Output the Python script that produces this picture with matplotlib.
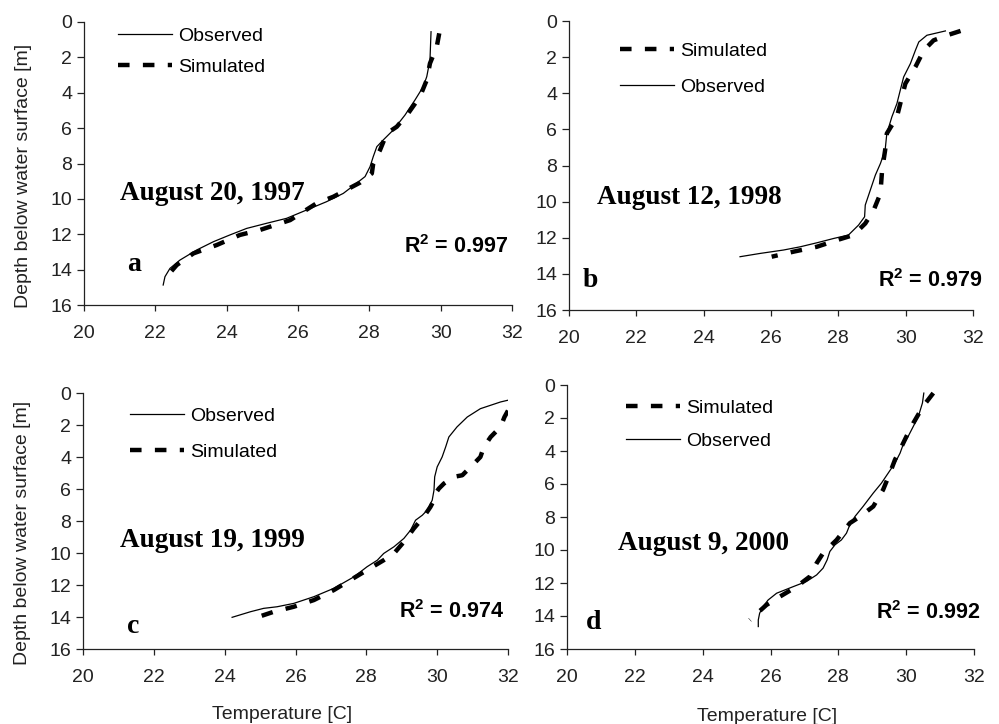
"""Observed vs simulated temperature profiles, four August surveys (1997-2000), 2x2 panels."""
import matplotlib; matplotlib.use("Agg")
import matplotlib.pyplot as plt

plt.rcParams["font.family"] = ["Liberation Sans", "DejaVu Sans"]
plt.rcParams["mathtext.fontset"] = "custom"
plt.rcParams["mathtext.bf"] = "Liberation Sans:bold"
plt.rcParams["mathtext.rm"] = "Liberation Sans"

# ---- data: temperature [C] vs depth [m] ----
a_obs_T = [29.73, 29.70, 29.61, 29.51, 29.28, 29.00, 28.67, 28.39, 28.21, 28.11, 28.02, 27.88, 27.64,
           27.27, 26.80, 26.24, 25.68, 25.12, 24.56, 24.09, 23.63, 23.16, 22.69, 22.41, 22.27, 22.22]
a_obs_D = [0.55, 2.15, 3.09, 3.66, 4.41, 5.26, 6.11, 6.67, 7.05, 7.61, 8.18, 8.74, 9.12,
           9.69, 10.16, 10.63, 11.10, 11.38, 11.67, 12.04, 12.42, 12.89, 13.46, 13.93, 14.40, 14.87]
a_sim_T = [29.96, 29.89, 29.70, 29.61, 29.42, 29.09, 28.77, 28.49, 28.30, 28.11, 28.07, 27.74, 26.99,
           26.52, 25.78, 24.93, 24.37, 23.72, 23.07, 22.60, 22.36]
a_sim_D = [0.64, 1.40, 2.34, 3.28, 4.22, 5.16, 5.92, 6.30, 7.24, 7.99, 8.56, 9.08, 9.88,
           10.25, 11.20, 11.76, 12.04, 12.61, 13.08, 13.74, 14.30]

b_obs_T = [31.18, 30.63, 30.39, 30.29, 30.14, 29.94, 29.84, 29.74, 29.59, 29.44, 29.39, 29.25, 29.10,
           28.95, 28.80, 28.78, 28.60, 28.30, 27.86, 27.36, 26.87, 26.37, 25.67, 25.08]
b_obs_D = [0.55, 0.79, 1.16, 1.62, 2.36, 3.10, 3.83, 4.57, 5.31, 6.23, 7.15, 7.89, 8.53,
           9.36, 10.19, 10.84, 11.30, 11.85, 12.04, 12.28, 12.50, 12.68, 12.87, 13.05]
b_sim_T = [31.63, 31.23, 30.83, 30.54, 30.29, 29.99, 29.89, 29.74, 29.44, 29.39, 29.30, 29.25, 29.05,
           28.80, 28.45, 27.96, 27.36, 26.67, 26.02]
b_sim_D = [0.55, 0.79, 1.07, 1.62, 2.54, 3.47, 4.20, 5.31, 6.23, 7.15, 8.26, 9.55, 10.47,
           11.21, 11.85, 12.13, 12.50, 12.77, 13.05]

c_obs_T = [32.00, 31.79, 31.22, 30.85, 30.56, 30.33, 30.24, 30.14, 30.00, 29.93, 29.91, 29.86, 29.72,
           29.58, 29.39, 29.25, 29.06, 28.78, 28.49, 28.31, 28.02, 27.65, 27.08, 26.52, 25.95, 25.48,
           25.10, 24.73, 24.21]
c_obs_D = [0.45, 0.56, 0.98, 1.50, 2.12, 2.75, 3.37, 4.00, 4.62, 5.24, 6.08, 6.70, 7.32,
           7.64, 7.95, 8.57, 9.09, 9.61, 10.03, 10.45, 10.86, 11.49, 12.21, 12.73, 13.15, 13.36,
           13.46, 13.67, 14.02]
c_sim_T = [32.00, 31.90, 31.79, 31.51, 31.32, 31.22, 31.04, 30.85, 30.71, 30.47, 30.19, 30.05, 29.95,
           29.91, 29.81, 29.62, 29.34, 29.10, 28.78, 28.49, 28.02, 27.55, 27.08, 26.52, 25.95, 25.39, 24.82]
c_sim_D = [1.10, 1.50, 2.12, 2.75, 3.37, 4.00, 4.41, 4.83, 5.14, 5.24, 5.66, 5.97, 6.28,
           6.70, 7.12, 7.74, 8.47, 9.20, 10.03, 10.45, 11.07, 11.69, 12.32, 12.94, 13.36, 13.67, 14.09]

d_obs_T = [30.52, 30.48, 30.36, 30.21, 30.06, 29.91, 29.82, 29.67, 29.47, 29.27, 29.03, 28.73, 28.49,
           28.34, 28.24, 28.09, 27.90, 27.75, 27.67, 27.55, 27.36, 27.06, 26.67, 26.18, 25.93, 25.78,
           25.68, 25.64, 25.64]
d_obs_D = [0.49, 1.09, 1.90, 2.51, 3.11, 3.62, 4.13, 4.73, 5.34, 5.95, 6.55, 7.36, 7.97,
           8.47, 8.98, 9.39, 9.69, 10.09, 10.60, 11.10, 11.51, 11.91, 12.22, 12.62, 13.03, 13.43,
           13.83, 14.24, 14.64]
d_sim_T = [30.80, 30.50, 30.21, 30.01, 29.82, 29.67, 29.52, 29.32, 29.03, 28.64, 28.34, 27.95, 27.55,
           27.36, 27.16, 26.77, 26.28, 25.88, 25.39]
d_sim_D = [0.49, 1.29, 2.31, 3.11, 3.92, 4.53, 5.34, 6.35, 7.36, 7.97, 8.37, 9.39, 10.19,
           10.80, 11.61, 12.22, 12.82, 13.33, 14.24]

dates = ["August 20, 1997", "August 12, 1998", "August 19, 1999", "August 9, 2000"]
letters = ["a", "b", "c", "d"]
r2 = ["0.997", "0.979", "0.974", "0.992"]
sim_first = [False, True, False, True]          # legend order differs between panels
x_ticks = [20, 22, 24, 26, 28, 30, 32]
y_ticks = [0, 2, 4, 6, 8, 10, 12, 14, 16]

W, H = 999, 724
# axes boxes in pixels: left, top, right, bottom
boxes = [(84, 22, 512, 305), (569, 21, 973, 310), (83, 393, 508, 649), (567, 385, 974, 649)]
# text anchors (data coords): date (x, baseline), letter (x, baseline), R2 (right x, baseline)
date_xy = [(21.0, 10.06), (20.83, 10.13), (21.05, 9.6), (21.5, 10.0)]
let_xy = [(21.2, 14.06), (20.42, 14.73), (21.24, 15.0), (20.56, 14.8)]
r2_xy = [(31.9, 13.08), (32.27, 14.73), (31.89, 14.05), (32.18, 14.2)]
# legend upper-left corner in pixels, row spacing
leg_xy = [(118, 27, 0.70), (620, 42, 0.95), (130, 407, 0.95), (626, 399, 0.80)]

obs = [(a_obs_T, a_obs_D), (b_obs_T, b_obs_D), (c_obs_T, c_obs_D), (d_obs_T, d_obs_D)]
sim = [(a_sim_T, a_sim_D), (b_sim_T, b_sim_D), (c_sim_T, c_sim_D), (d_sim_T, d_sim_D)]

fig = plt.figure(figsize=(W / 100, H / 100), dpi=100)
FS = 14
for i in range(4):
    l, t, r, b = boxes[i]
    ax = fig.add_axes([l / W, 1 - b / H, (r - l) / W, (b - t) / H])
    lo, = ax.plot(*obs[i], color="black", lw=0.9, label="Observed")
    ls, = ax.plot(*sim[i], color="black", lw=3.2, linestyle=(0, (2.6, 3.0)),
                  dash_capstyle="butt", label="Simulated")
    ax.set_xlim(20, 32); ax.set_ylim(16, 0)
    ax.set_xticks(x_ticks); ax.set_yticks(y_ticks)
    for s in ("top", "right"):
        ax.spines[s].set_visible(False)
    for s in ("left", "bottom"):
        ax.spines[s].set_linewidth(0.9); ax.spines[s].set_color("#222222")
    ax.tick_params(axis="x", direction="out", length=4.5, width=0.9, pad=10, labelsize=FS, colors="#222222")
    ax.tick_params(axis="y", direction="out", length=5, width=0.9, pad=3.5, labelsize=FS, colors="#222222")
    if i in (0, 2):
        ax.set_ylabel("Depth below water surface [m]", fontsize=FS, color="#222222")
        ax.yaxis.set_label_coords(-0.122, 0.455)
    if i in (2, 3):
        ax.set_xlabel("Temperature [C]", fontsize=FS, color="#222222")
        ax.xaxis.set_label_coords(0.468 if i == 2 else 0.491, -0.222)

    ax.text(*date_xy[i], dates[i], family="Liberation Serif", weight="bold", fontsize=19.5, va="baseline")
    ax.text(*let_xy[i], letters[i], family="Liberation Serif", weight="bold", fontsize=20, va="baseline")
    ax.text(*r2_xy[i], r"$\mathbf{R^2}$" + f" = {r2[i]}", weight="bold", fontsize=15.5, ha="right",
            va="baseline", clip_on=False)

    hx, hy, sp = leg_xy[i]
    handles = [ls, lo] if sim_first[i] else [lo, ls]
    ax.legend(handles=handles, loc="upper left", bbox_to_anchor=(hx / W, 1 - hy / H),
              bbox_transform=fig.transFigure, frameon=False, fontsize=FS, borderpad=0, borderaxespad=0,
              handlelength=2.8, handletextpad=0.3, labelspacing=sp)

fig.savefig("out.png", dpi=100)
